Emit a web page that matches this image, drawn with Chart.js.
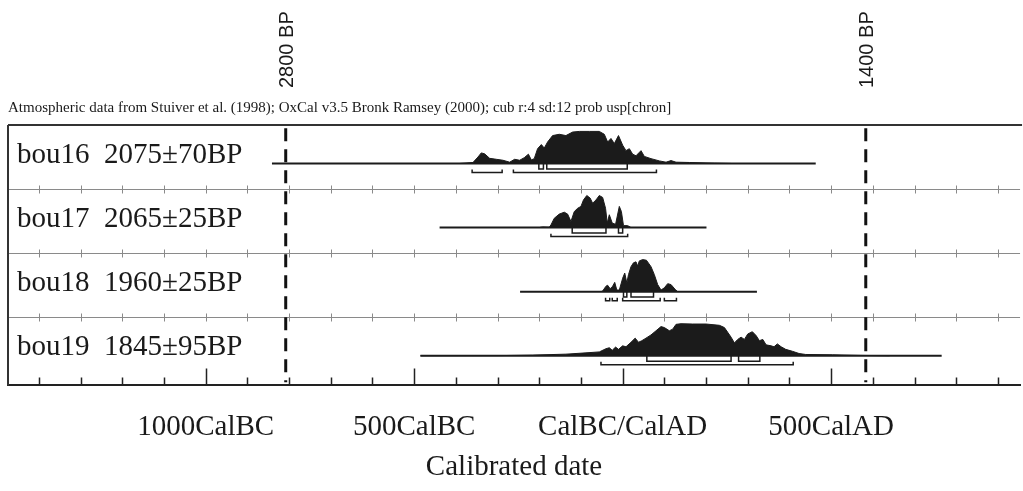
<!DOCTYPE html>
<html>
<head>
<meta charset="utf-8">
<script src="https://cdn.jsdelivr.net/npm/chart.js@4/dist/chart.umd.min.js"></script>
<style>
  body { margin: 0; background: #fff; }
  #wrap { width: 1023px; height: 491px; position: relative; }
</style>
</head>
<body>
<div id="wrap"><canvas id="oxcalChart"></canvas></div>
<script>
// OxCal multiplot: calibrated dates bou16..bou19

const sampleLabels = ['bou16  2075\u00b170BP', 'bou17  2065\u00b125BP', 'bou18  1960\u00b125BP', 'bou19  1845\u00b195BP'];

// extent of the horizontal line under each distribution (cal years, BC negative)
const lineStart = [-841, -439, -246, -485];
const lineEnd = [463, 201, 322, 765];

// probability distributions (relative, peak = 1)
const years16 = [-391, -359, -347, -339, -331, -319, -303, -287, -271, -259, -247, -236, -226, -219, -212, -204, -195, -188, -180, -168, -152, -136, -120, -104, -80, -56, -44, -36, -28, -20, -10, 0, 8, 16, 24, 32, 44, 52, 68, 88, 104, 116, 128, 160, 220, 260];
const prob16 = [0, 0.03, 0.2, 0.33, 0.3, 0.16, 0.13, 0.1, 0.04, 0.13, 0.1, 0.18, 0.29, 0.11, 0.15, 0.46, 0.59, 0.48, 0.67, 0.87, 0.91, 0.87, 0.98, 1.0, 1.0, 1.0, 0.91, 0.67, 0.78, 0.62, 0.87, 0.57, 0.4, 0.46, 0.29, 0.24, 0.4, 0.22, 0.15, 0.08, 0.04, 0.09, 0.04, 0.03, 0.01, 0];

const years17 = [-200, -192, -176, -172, -164, -152, -140, -132, -124, -116, -108, -100, -94, -86, -78, -72, -64, -56, -48, -41, -37, -32, -25, -17, -8, -3, 2, 12, 20];
const prob17 = [0, 0.02, 0.01, 0.08, 0.29, 0.42, 0.48, 0.42, 0.19, 0.5, 0.6, 0.66, 0.86, 1.0, 0.92, 0.76, 0.86, 1.0, 0.94, 0.6, 0.14, 0.4, 0.14, 0.1, 0.66, 0.5, 0.06, 0.06, 0];

const years18 = [-52, -48, -40, -36, -30, -24, -19, -14, -8, 0, 5, 10, 14, 20, 26, 32, 36, 40, 48, 57, 68, 76, 84, 92, 100, 108, 116, 126, 132];
const prob18 = [0, 0.02, 0.17, 0.2, 0.09, 0.17, 0.29, 0.05, 0.05, 0.42, 0.58, 0.27, 0.53, 0.78, 0.9, 0.93, 0.8, 0.96, 1.0, 0.98, 0.78, 0.53, 0.22, 0.05, 0.12, 0.25, 0.22, 0.07, 0];

const years19 = [-485, -295, -216, -136, -88, -56, -40, -32, -25, -17, -10, 0, 8, 20, 30, 38, 46, 56, 68, 80, 92, 100, 112, 120, 128, 140, 168, 200, 232, 244, 252, 260, 268, 276, 284, 292, 300, 311, 320, 328, 336, 344, 356, 363, 371, 380, 391, 407, 423, 439, 503, 575, 640];
const prob19 = [0, 0.005, 0.02, 0.05, 0.09, 0.12, 0.22, 0.25, 0.17, 0.27, 0.2, 0.31, 0.28, 0.42, 0.55, 0.42, 0.47, 0.55, 0.65, 0.78, 0.91, 0.88, 0.78, 0.83, 0.98, 1.0, 0.99, 0.99, 0.95, 0.88, 0.73, 0.58, 0.4, 0.51, 0.58, 0.51, 0.68, 0.75, 0.63, 0.47, 0.51, 0.34, 0.31, 0.28, 0.37, 0.28, 0.2, 0.14, 0.07, 0.04, 0.03, 0.01, 0];

const distYears = [years16, years17, years18, years19];
const distProbs = [prob16, prob17, prob18, prob19];

// 68.2% and 95.4% ranges
const range68 = [
  [[-201, -190], [-182, 11]],
  [[-121, -40], [-10, 0]],
  [[2, 10], [20, 74]],
  [[58, 260], [278, 329]]
];
const range95 = [
  [[-361, -289], [-262, 81]],
  [[-172, 12]],
  [[-41, -31], [-25, -13], [0, 90], [100, 129]],
  [[-52, 409]]
];

// reference lines
const bpYears = [-808, 583];
const bpLabels = ['2800 BP', '1400 BP'];

// axis ticks
const tickYears = [-1400, -1300, -1200, -1100, -1000, -900, -800, -700, -600, -500, -400, -300, -200, -100, 0, 100, 200, 300, 400, 500, 600, 700, 800, 900];
const majorYears = [-1000, -500, 0, 500];
const majorLabels = ['1000CalBC', '500CalBC', 'CalBC/CalAD', '500CalAD'];

const subtitle = 'Atmospheric data from Stuiver et al. (1998); OxCal v3.5 Bronk Ramsey (2000); cub r:4 sd:12 prob usp[chron]';

const ROWS = 4;
const Y_MAX = 4.0625;
const BASE_OFF = 0.6;
const PEAK = 0.5;
const INK = '#1b1b1b';
const serif = '"Liberation Serif", "Times New Roman", serif';

function rowBase(i) { return i + BASE_OFF; }

function bracketPoints(ranges, base, top, bottom) {
  const pts = [];
  ranges.forEach(r => {
    pts.push({ x: r[0], y: base + top });
    pts.push({ x: r[0], y: base + bottom });
    pts.push({ x: r[1], y: base + bottom });
    pts.push({ x: r[1], y: base + top });
    pts.push({ x: r[1], y: null });
  });
  return pts;
}

const datasets = [];
for (let i = 0; i < ROWS; i++) {
  const base = rowBase(i);
  datasets.push({
    data: [{ x: lineStart[i], y: base }, { x: lineEnd[i], y: base }],
    borderColor: INK, borderWidth: 2, pointRadius: 0, fill: false
  });
  datasets.push({
    data: distYears[i].map((yr, k) => ({ x: yr, y: base - distProbs[i][k] * PEAK })),
    borderColor: INK, borderWidth: 1, backgroundColor: INK,
    pointRadius: 0, fill: { value: base }, tension: 0
  });
  datasets.push({
    data: bracketPoints(range68[i], base, 0, 0.085),
    borderColor: INK, borderWidth: 1.5, pointRadius: 0, fill: false, spanGaps: false
  });
  datasets.push({
    data: bracketPoints(range95[i], base, 0.095, 0.14),
    borderColor: INK, borderWidth: 1.5, pointRadius: 0, fill: false, spanGaps: false
  });
}
bpYears.forEach(yr => {
  datasets.push({
    data: [{ x: yr, y: 0.05 }, { x: yr, y: Y_MAX - 0.05 }],
    borderColor: '#111', borderWidth: 3, borderDash: [13, 8],
    pointRadius: 0, fill: false
  });
});

const overlay = {
  id: 'overlay',
  beforeDatasetsDraw(chart) {
    const { ctx, chartArea: a, scales: { x, y } } = chart;
    ctx.save();
    // row separators with tick marks
    ctx.strokeStyle = '#8a8a8a';
    ctx.lineWidth = 1;
    for (let i = 1; i < ROWS; i++) {
      const py = Math.round(y.getPixelForValue(i)) + 0.5;
      ctx.beginPath();
      ctx.moveTo(a.left, py);
      ctx.lineTo(a.right, py);
      tickYears.forEach(t => {
        const px = Math.round(x.getPixelForValue(t)) + 0.5;
        ctx.moveTo(px, py - 4);
        ctx.lineTo(px, py + 4);
      });
      ctx.stroke();
    }
    ctx.restore();
  },
  afterDraw(chart) {
    const { ctx, chartArea: a, scales: { x, y } } = chart;
    ctx.save();
    // frame top and left
    ctx.strokeStyle = '#333';
    ctx.lineWidth = 2;
    ctx.beginPath();
    ctx.moveTo(a.left, a.top);
    ctx.lineTo(a.right + 2, a.top);
    ctx.moveTo(a.left, a.top);
    ctx.lineTo(a.left, a.bottom);
    ctx.stroke();

    // bottom axis ticks pointing up
    ctx.strokeStyle = '#222';
    ctx.lineWidth = 1.5;
    ctx.beginPath();
    tickYears.forEach(t => {
      const px = Math.round(x.getPixelForValue(t)) + 0.5;
      const len = majorYears.includes(t) ? 17 : 8;
      ctx.moveTo(px, a.bottom);
      ctx.lineTo(px, a.bottom - len);
    });
    ctx.stroke();

    // row labels
    ctx.fillStyle = '#1a1a1a';
    ctx.font = '29px ' + serif;
    ctx.textAlign = 'left';
    ctx.textBaseline = 'alphabetic';
    sampleLabels.forEach((s, i) => {
      ctx.fillText(s, a.left + 9, y.getPixelForValue(i) + 38);
    });

    // subtitle
    ctx.font = '15px ' + serif;
    ctx.fillText(subtitle, a.left, a.top - 13);

    // rotated BP labels
    ctx.font = '20px "Liberation Sans", Arial, sans-serif';
    bpYears.forEach((yr, k) => {
      ctx.save();
      ctx.translate(x.getPixelForValue(yr) + 2, 88);
      ctx.rotate(-Math.PI / 2);
      ctx.textAlign = 'left';
      ctx.textBaseline = 'middle';
      ctx.fillText(bpLabels[k], 0, 0);
      ctx.restore();
    });
    ctx.restore();
  }
};

new Chart(document.getElementById('oxcalChart'), {
  type: 'line',
  data: { datasets },
  options: {
    responsive: true,
    maintainAspectRatio: false,
    animation: false,
    layout: { padding: { top: 125, left: 8, right: 2, bottom: 6 } },
    plugins: { legend: { display: false }, tooltip: { enabled: false } },
    scales: {
      x: {
        type: 'linear',
        min: -1474,
        max: 953,
        grid: { display: false, drawTicks: false },
        border: { display: true, color: '#222', width: 2 },
        afterBuildTicks: scale => { scale.ticks = tickYears.map(v => ({ value: v })); },
        ticks: {
          autoSkip: false,
          maxRotation: 0,
          padding: 25,
          color: '#1a1a1a',
          font: { family: serif, size: 29 },
          callback: v => {
            const k = majorYears.indexOf(v);
            return k >= 0 ? majorLabels[k] : '';
          }
        },
        title: {
          display: true,
          text: 'Calibrated date',
          color: '#1a1a1a',
          font: { family: serif, size: 29 },
          padding: { top: -20, bottom: 0 }
        }
      },
      y: { type: 'linear', display: false, min: 0, max: Y_MAX, reverse: true }
    }
  },
  plugins: [overlay]
});
</script>
</body>
</html>
